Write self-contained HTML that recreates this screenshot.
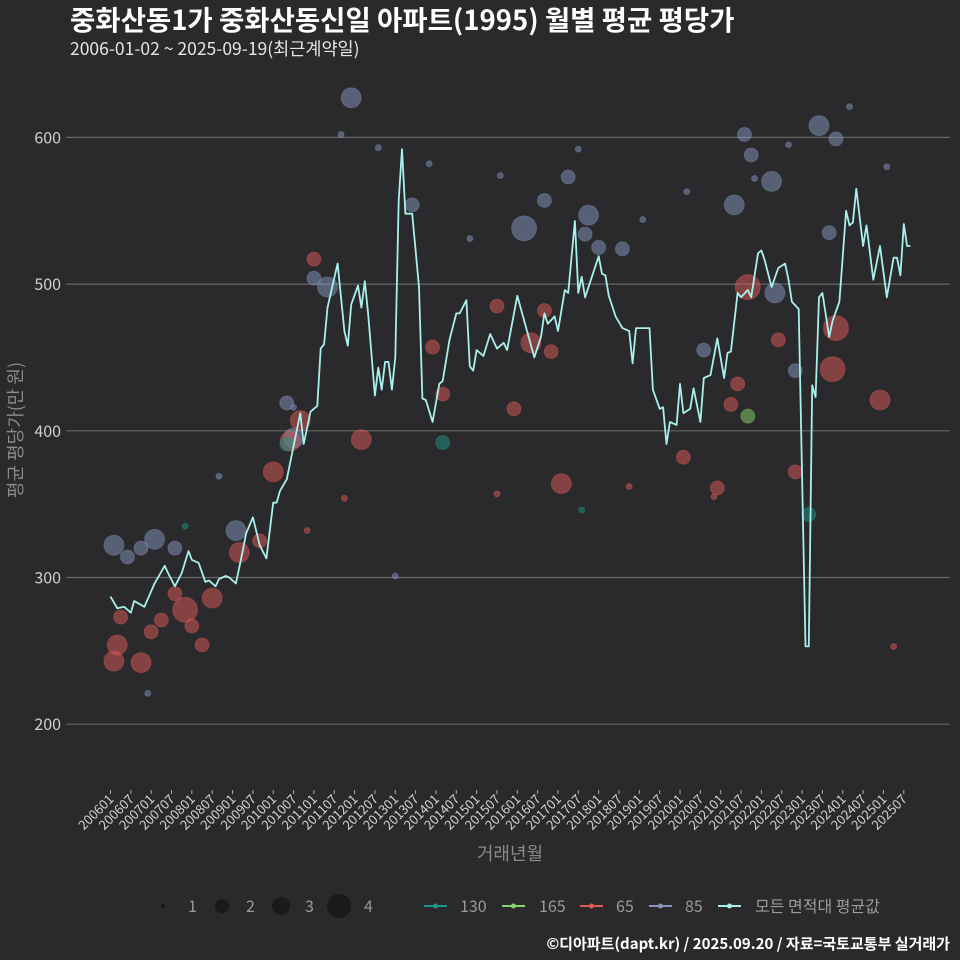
<!DOCTYPE html>
<html><head><meta charset="utf-8">
<style>
html,body{margin:0;padding:0;background:#2a2a2c;}
svg{display:block;font-family:"Noto Sans CJK KR","Liberation Sans",sans-serif;}
</style></head>
<body>
<svg id="chart" width="960" height="960" viewBox="0 0 960 960">
<rect width="960" height="960" fill="#2a2a2c"/>
<text x="70" y="30" fill="#ffffff" font-size="27.5" font-weight="bold">중화산동1가 중화산동신일 아파트(1995) 월별 평균 평당가</text>
<text x="70" y="55" fill="#e6e6e6" font-size="17.5">2006-01-02 ~ 2025-09-19(최근계약일)</text>
<g id="grid"></g>
<g id="yticks"></g>
<g id="xticks"></g>
<g id="points"></g>
<path id="avgline" fill="none" stroke="#a8f0ec" stroke-width="1.8" stroke-linejoin="round"/>
<text transform="translate(22,430) rotate(-90)" text-anchor="middle" fill="#8a8a8a" font-size="18">평균 평당가(만 원)</text>
<text x="510" y="860" text-anchor="middle" fill="#8a8a8a" font-size="18">거래년월</text>
<g>
<circle cx="163" cy="906" r="2" fill="#1a1a1c"/>
<text x="188" y="912" fill="#9a9a9a" font-size="16">1</text>
<circle cx="222" cy="906" r="7" fill="#1a1a1c"/>
<text x="246" y="912" fill="#9a9a9a" font-size="16">2</text>
<circle cx="281" cy="906" r="9" fill="#1a1a1c"/>
<text x="305" y="912" fill="#9a9a9a" font-size="16">3</text>
<circle cx="339" cy="906" r="12" fill="#1a1a1c"/>
<text x="364" y="912" fill="#9a9a9a" font-size="16">4</text>
</g>
<g id="colorlegend"></g>
<text x="950" y="949" text-anchor="end" fill="#ffffff" font-size="15" font-weight="bold">©디아파트(dapt.kr) / 2025.09.20 / 자료=국토교통부 실거래가</text>
</svg>
<script>
const lineMonths = ["200601","200603","200605","200607","200608","200611","200702","200705","200706","200708","200710","200712","200801","200803","200805","200806","200808","200809","200811","200812","200902","200904","200905","200907","200909","200911","201001","201002","201003","201005","201009","201010","201012","201102","201103","201104","201105","201108","201110","201111","201112","201202","201203","201204","201205","201207","201208","201209","201210","201211","201212","201301","201302","201303","201304","201306","201308","201309","201310","201312","201402","201403","201405","201407","201408","201410","201411","201412","201501","201503","201505","201507","201509","201510","201601","201606","201608","201609","201610","201612","201701","201703","201704","201706","201707","201708","201709","201801","201802","201803","201804","201806","201808","201810","201811","201812","201904","201905","201907","201908","201909","201910","201912","202001","202002","202004","202005","202007","202008","202010","202012","202102","202103","202104","202106","202107","202109","202110","202112","202201","202202","202204","202206","202208","202209","202210","202212","202302","202303","202304","202305","202306","202307","202309","202310","202312","202402","202403","202404","202405","202407","202408","202410","202412","202502","202504","202505","202506","202507","202508","202509"];
const lineValues = [287,279,280,276,284,280,296,308,303,294,303,318,312,310,297,298,294,299,301,300,296,318,330,341,322,313,351,351,359,367,412,391,413,417,456,459,484,514,468,458,486,499,484,502,480,424,443,428,447,447,428,450,557,592,548,548,498,422,421,406,432,434,462,480,480,489,444,441,455,451,466,456,460,455,492,450,464,480,473,478,468,496,494,543,494,505,491,519,507,506,492,478,470,468,446,470,470,428,415,416,391,406,404,432,412,415,429,406,436,438,463,436,453,454,494,491,496,491,521,523,516,498,511,514,503,488,483,253,253,431,423,491,494,464,475,488,550,540,542,565,526,540,503,526,491,518,518,506,541,526,526];
const ptMonths = ["200602","200606","200610","200702","200708","200902","201005","201007","201101","201105","201112","201306","201603","201609","201704","201710","201709","201801","201808","202008","202105","202108","202110","202205","202204","202211","202306","202311","202309","200603","200604","200610","200602","200701","200708","200704","200711","200801","200804","200807","200903","200909","201001","201006","201009","201101","201203","201312","201403","201507","201512","201605","201609","201611","201702","202002","202012","202104","202106","202109","202206","202211","202310","202311","202412","202504","202303","200711","201005","202109","201403","201301","200612","200809","201007","201109","201208","201311","201411","201508","201707","201902","202003","202111","202209","202403","202502","201011","201507","201110","201810","202011","201708"];
const ptValues = [322,314,320,326,320,332,419,395,504,498,627,554,538,557,573,547,534,525,524,455,554,602,588,494,570,441,608,599,535,254,273,242,243,263,289,271,278,267,254,286,317,325,372,393,407,517,394,457,425,485,415,460,482,454,364,382,361,418,432,498,462,372,442,470,421,253,343,335,391,410,392,301,221,369,416,602,593,582,531,574,592,544,563,572,595,621,580,332,357,354,362,355,346];
const ptSizes = [3,2,2,3,2,3,2,3,2,3,3,2,4,2,2,3,2,2,2,2,3,2,2,3,3,2,3,2,2,3,2,3,3,2,2,2,4,2,2,3,3,2,3,3,3,2,3,2,2,2,2,3,2,2,3,2,2,2,2,4,2,2,4,4,3,1,2,1,2,2,2,1,1,1,1,1,1,1,1,1,1,1,1,1,1,1,1,1,1,1,1,1,1];
const ptTypes = ["85","85","85","85","85","85","85","85","85","85","85","85","85","85","85","85","85","85","85","85","85","85","85","85","85","85","85","85","85","65","65","65","65","65","65","65","65","65","65","65","65","65","65","65","65","65","65","65","65","65","65","65","65","65","65","65","65","65","65","65","65","65","65","65","65","65","130","130","130","165","130","85","85","85","85","85","85","85","85","85","85","85","85","85","85","85","85","65","65","65","65","65","130"];
const yTicks = [200,300,400,500,600];
const xTickLabels = [];
for (let y = 2006; y <= 2025; y++) { xTickLabels.push(y + "01"); xTickLabels.push(y + "07"); }

const NS = "http://www.w3.org/2000/svg";
const colors = {"130":"#1f9488","165":"#86d46c","65":"#e05a5a","85":"#8496be","all":"#a8f0ec"};
function monthIndex(s){ return (parseInt(s.slice(0,4))-2006)*12 + parseInt(s.slice(4,6))-1; }
function xScale(s){ return 110.5 + monthIndex(s)*3.39; }
function yScale(v){ return 577.5 - (v-300)*1.467; }
function radius(sz){ return [0,3,7,10,12.5][sz]; }
function mk(tag, attrs){ const e=document.createElementNS(NS,tag); for(const k in attrs) e.setAttribute(k,attrs[k]); return e; }

const grid=document.getElementById('grid'), yt=document.getElementById('yticks');
yTicks.forEach(v=>{
  const l=mk('line',{x1:66,x2:950,y1:yScale(v),y2:yScale(v),stroke:'#666',"stroke-width":1.2});
  
  
  grid.appendChild(l);
  const t=mk('text',{x:61,y:yScale(v)+6,"text-anchor":"end",fill:"#cfcfcf","font-size":16});
  t.textContent=v;
  
  
  yt.appendChild(t);
});
const xt=document.getElementById('xticks');
xTickLabels.forEach(s=>{
  const x=xScale(s);
  const tk=mk('line',{x1:x,x2:x,y1:790,y2:794,stroke:'#aaa'});
  
  
  xt.appendChild(tk);
  const t=mk('text',{transform:`translate(${x+4},${800}) rotate(-45)`,"text-anchor":"end",fill:"#d0d0d0","font-size":13});
  t.textContent=s;
  
  
  xt.appendChild(t);
});
const pts=document.getElementById('points');
const order=ptMonths.map((m,i)=>i).sort((a,b)=>ptSizes[b]-ptSizes[a]);
order.forEach(i=>{
  const c=mk('circle',{cx:xScale(ptMonths[i]),cy:yScale(ptValues[i]),r:radius(ptSizes[i]),fill:colors[ptTypes[i]],"fill-opacity":0.5,stroke:colors[ptTypes[i]],"stroke-opacity":0.35});
  
  
  pts.appendChild(c);
});
document.getElementById('avgline').setAttribute('d', lineMonths.map((m,i)=>(i?'L':'M')+xScale(m).toFixed(1)+','+yScale(lineValues[i]).toFixed(1)).join(''));

const legendItems=[["130",424,460],["165",502,539],["65",580,616],["85",649,685],["all",718,755]];
const lg=document.getElementById('colorlegend');
legendItems.forEach(([k,x,tx])=>{
  const l=mk('line',{x1:x,x2:x+23,y1:906,y2:906,stroke:colors[k],"stroke-width":2});
  
  
  lg.appendChild(l);
  const c=mk('circle',{cx:x+11.5,cy:906,r:2.5,fill:colors[k]});
  
  
  lg.appendChild(c);
  const t=mk('text',{x:tx,y:912,fill:"#9a9a9a","font-size":16});
  t.textContent = k==="all" ? "모든 면적대 평균값" : k;
  
  
  lg.appendChild(t);
});
</script>
</body></html>
